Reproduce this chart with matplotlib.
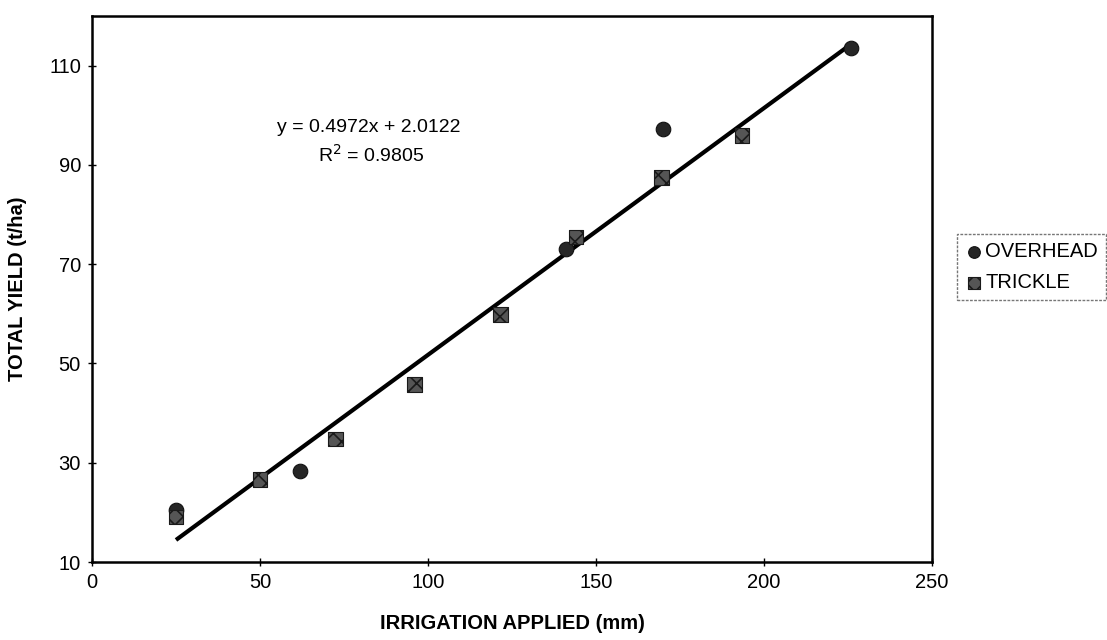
import matplotlib
matplotlib.use("Agg")
import matplotlib.pyplot as plt
import numpy as np

plt.rcParams['font.family'] = ['Liberation Sans', 'DejaVu Sans']
plt.rcParams['hatch.linewidth'] = 1.2

# Irrigation trial results
overhead_x = [25, 62, 141, 170, 226]
overhead_y = [20.5, 28.4, 73.1, 97.2, 113.6]

trickle_x = [25, 50, 72.5, 96, 121.5, 144, 169.5, 193.5]
trickle_y = [19.1, 26.6, 34.8, 45.8, 59.9, 75.5, 87.5, 95.9]

# Linear fit over all treatments
slope = 0.4972
intercept = 2.0122
r_squared = 0.9805
fit_x = [25, 226]

x_ticks = [0, 50, 100, 150, 200, 250]
y_ticks = [10, 30, 50, 70, 90, 110]

fig = plt.figure(figsize=(11.07, 6.40), dpi=100)
ax = fig.add_axes([92 / 1107, 1 - 562 / 640, (932 - 92) / 1107, (562 - 16) / 640])

fx = np.array(fit_x, dtype=float)
ax.plot(fx, slope * fx + intercept, color='black', lw=3.0, solid_capstyle='butt', zorder=2)

ax.scatter(overhead_x, overhead_y, s=110, marker='o', facecolor='#262626',
           edgecolor='#111111', linewidth=0.8, zorder=3, label='OVERHEAD')
ax.scatter(trickle_x, trickle_y, s=110, marker='s', facecolor='#555555',
           edgecolor='#1a1a1a', hatch='xx', linewidth=0.8, zorder=4, label='TRICKLE')

ax.text(82.5, 97.6, f"y = {slope}x + {intercept}", ha='center', va='center', fontsize=14)
ax.text(83.0, 92.0, f"R$^2$ = {r_squared}", ha='center', va='center', fontsize=14)

ax.set_xlim(0, 250)
ax.set_ylim(10, 120)
ax.set_xticks(x_ticks)
ax.set_yticks(y_ticks)
ax.tick_params(direction='inout', length=6, width=1, labelsize=14.5, pad=5)
for sp in ax.spines.values():
    sp.set_linewidth(1.8)

ax.set_xlabel('IRRIGATION APPLIED (mm)', fontsize=14.5, fontweight='bold', labelpad=16)
ax.set_ylabel('TOTAL YIELD (t/ha)', fontsize=14.5, fontweight='bold', labelpad=16)

leg = fig.legend(loc='upper left', bbox_to_anchor=(957 / 1107, 1 - 234 / 640),
                 fontsize=14.5, frameon=True, fancybox=False, handletextpad=0.1,
                 handlelength=0.9, borderpad=0.4, labelspacing=0.6, borderaxespad=0,
                 scatterpoints=1, markerscale=0.8)
leg.get_frame().set_edgecolor('#555555')
leg.get_frame().set_linewidth(1.0)
leg.get_frame().set_linestyle((0, (2, 1)))

fig.savefig('out.png', dpi=100)
